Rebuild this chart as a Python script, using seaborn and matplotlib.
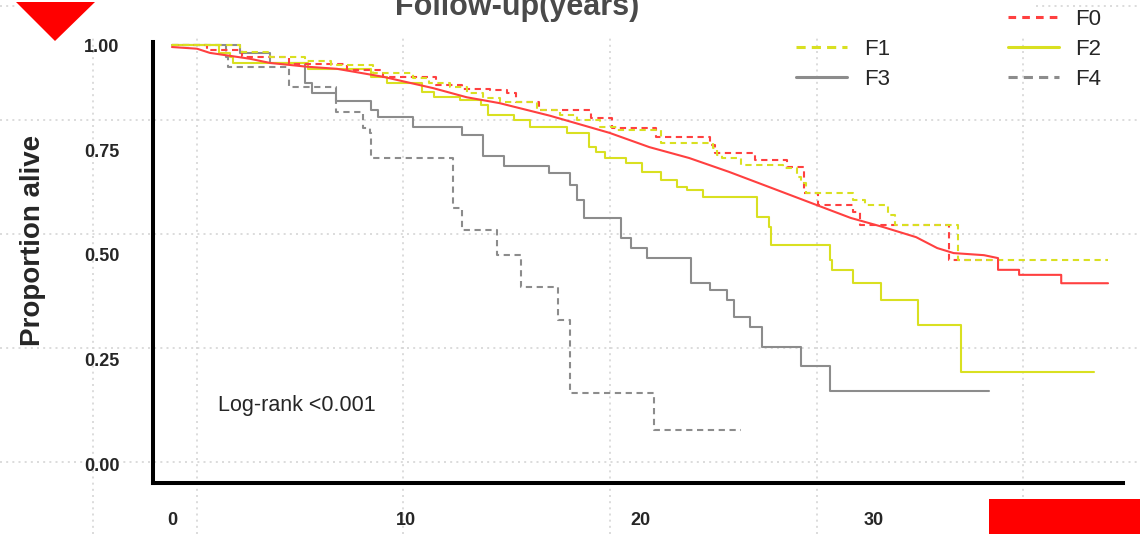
import numpy as np
import pandas as pd
import matplotlib
matplotlib.use("Agg")
import matplotlib.pyplot as plt
import seaborn as sns
from matplotlib.lines import Line2D
from matplotlib.patches import Polygon, Rectangle

# Kaplan-Meier step corners (time in years, survival)
f0_time = [0, 1.5, 3.0, 5.0, 7.5, 9.0, 11.3, 12.4, 13.6, 14.3, 14.7, 15.7, 17.9,
           18.8, 20.7, 23.0, 23.2, 24.9, 26.3, 27.0, 27.6, 29.1, 29.4, 33.2, 35.2]
f0_surv = [1.0, 0.99, 0.972, 0.955, 0.94, 0.925, 0.906, 0.896, 0.894, 0.887, 0.865,
           0.846, 0.827, 0.803, 0.781, 0.762, 0.743, 0.726, 0.710, 0.648, 0.619,
           0.602, 0.571, 0.487, 0.487]

f1_time = [0, 2.9, 4.2, 5.7, 6.8, 8.6, 10.3, 11.0, 11.9, 12.6, 13.3, 14.0, 15.6,
           16.6, 17.3, 18.3, 19.0, 20.9, 23.1, 23.3, 23.5, 24.3, 26.1, 26.7, 26.9,
           27.1, 29.1, 29.6, 30.6, 30.9, 33.6, 40.0]
f1_surv = [1.0, 0.984, 0.973, 0.963, 0.953, 0.934, 0.922, 0.910, 0.901, 0.887,
           0.875, 0.865, 0.846, 0.834, 0.822, 0.805, 0.798, 0.767, 0.755, 0.739,
           0.731, 0.714, 0.707, 0.686, 0.672, 0.648, 0.631, 0.619, 0.595, 0.571,
           0.487, 0.487]

f2_time = [0, 2.0, 2.5, 2.6, 5.8, 8.5, 9.2, 10.7, 11.2, 12.3, 13.2, 13.5, 14.6,
           15.3, 16.9, 17.8, 18.1, 18.5, 19.4, 20.1, 20.9, 21.6, 22.0, 22.7, 25.0,
           25.5, 25.6, 28.1, 28.2, 29.1, 30.3, 31.9, 33.7, 39.4]
f2_surv = [1.0, 0.981, 0.971, 0.959, 0.944, 0.925, 0.911, 0.889, 0.877, 0.870,
           0.858, 0.834, 0.822, 0.805, 0.791, 0.757, 0.746, 0.731, 0.719, 0.698,
           0.679, 0.662, 0.655, 0.638, 0.590, 0.566, 0.523, 0.487, 0.463, 0.432,
           0.392, 0.332, 0.220, 0.220]

f3_time = [0, 2.9, 4.2, 5.7, 6.0, 7.0, 8.5, 8.8, 10.3, 12.4, 13.3, 14.2, 16.1,
           17.0, 17.3, 17.6, 19.2, 19.6, 20.3, 22.2, 23.0, 23.7, 24.0, 24.7, 25.2,
           26.9, 28.1, 34.9]
f3_surv = [1.0, 0.982, 0.958, 0.910, 0.886, 0.867, 0.846, 0.829, 0.805, 0.786,
           0.736, 0.712, 0.695, 0.667, 0.631, 0.588, 0.540, 0.516, 0.492, 0.432,
           0.416, 0.392, 0.351, 0.327, 0.280, 0.234, 0.174, 0.174]

f4_time = [0, 2.3, 2.4, 5.0, 7.0, 8.15, 8.45, 8.5, 12.0, 12.4, 13.9, 14.9, 16.5,
           17.0, 20.6, 24.3]
f4_surv = [1.0, 0.973, 0.949, 0.901, 0.841, 0.803, 0.791, 0.731, 0.612, 0.559,
           0.499, 0.423, 0.344, 0.170, 0.081, 0.081]

# overall cohort (dense small steps, traced as a polyline)
all_time = [0, 1.07, 1.62, 3.33, 4.19, 5.77, 7.05, 9.02, 11.15, 12.6, 14.0, 16.15,
            18.7, 20.4, 22.1, 23.8, 25.6, 27.3, 29.0, 30.4, 31.8, 32.7, 33.4, 34.7,
            35.3, 35.3, 36.2, 36.2, 38.0, 38.0, 40.0]
all_surv = [0.996, 0.992, 0.982, 0.968, 0.958, 0.949, 0.944, 0.925, 0.898, 0.876,
            0.862, 0.832, 0.791, 0.757, 0.731, 0.698, 0.660, 0.624, 0.588, 0.566,
            0.542, 0.516, 0.504, 0.499, 0.492, 0.464, 0.464, 0.452, 0.452, 0.432,
            0.432]

x_ticks = [0, 10, 20, 30, 40]
y_ticks = [0.0, 0.25, 0.5, 0.75, 1.0]
y_tick_labels = ["0.00", "0.25", "0.50", "0.75", "1.00"]

RED = "#FF4040"
YEL = "#D9E021"
GRY = "#8C8C8C"

sns.set_style("white")
plt.rcParams["font.family"] = ["Liberation Sans", "DejaVu Sans"]

W, H = 1140, 534
fig = plt.figure(figsize=(W / 100, H / 100), dpi=100)

# dotted background grid spanning the whole canvas
bg = fig.add_axes([0, 0, 1, 1], zorder=0)
bg.set_xlim(0, W)
bg.set_ylim(H, 0)
bg.axis("off")
for gx in [93, 197, 403, 610, 817, 1023]:
    bg.axvline(gx, color="#D6D6D6", lw=1.2, ls=(0, (1.2, 2.5)))
for gy in [6, 120, 234, 348, 462]:
    bg.axhline(gy, color="#D6D6D6", lw=1.2, ls=(0, (1.2, 2.5)))

ax = fig.add_axes([153 / W, 51 / H, 970 / W, 441 / H], zorder=1)
ax.set_facecolor("none")

curves = [
    (f4_time, f4_surv, GRY, (0, (3, 2.2))),
    (f3_time, f3_surv, GRY, "-"),
    (f2_time, f2_surv, YEL, "-"),
    (f0_time, f0_surv, RED, (0, (3, 2.2))),
    (f1_time, f1_surv, YEL, (0, (3, 2.2))),
]
for t, s, c, ls in curves:
    df = pd.DataFrame({"time": t, "surv": s})
    sns.lineplot(data=df, x="time", y="surv", ax=ax, color=c, linestyle=ls,
                 lw=1.5, drawstyle="steps-post", estimator=None, sort=False)

df_all = pd.DataFrame({"time": all_time, "surv": all_surv})
sns.lineplot(data=df_all, x="time", y="surv", ax=ax, color=RED, lw=1.5,
             estimator=None, sort=False)

ax.set_xlim(-0.81, 40.64)
ax.set_ylim(-0.045, 1.008)
ax.set_xticks(x_ticks)
ax.set_xticklabels([str(v) for v in x_ticks])
ax.set_yticks(y_ticks)
ax.set_yticklabels(y_tick_labels)
for lab in ax.get_xticklabels() + ax.get_yticklabels():
    lab.set_fontweight("bold")
ax.tick_params(axis="both", direction="out", length=11, width=2.9,
               labelsize=13, color="black")
ax.tick_params(axis="y", pad=13)
ax.tick_params(axis="x", pad=10)
ax.grid(False)
sns.despine(ax=ax)
for side in ["left", "bottom"]:
    ax.spines[side].set_linewidth(2.9)
    ax.spines[side].set_color("black")
ax.set_xlabel("")
ax.set_ylabel("Proportion alive", fontsize=20, fontweight="bold")
ax.yaxis.set_label_coords(-0.110, 0.549)

ax.text(1.97, 0.139, "Log-rank <0.001", fontsize=15.5, va="center", ha="left")

handles = [
    Line2D([], [], color="none"),
    Line2D([], [], color=YEL, lw=2.2, ls=(0, (3, 2))),
    Line2D([], [], color=GRY, lw=2.2, ls="-"),
    Line2D([], [], color=RED, lw=2.2, ls=(0, (2.5, 2))),
    Line2D([], [], color=YEL, lw=2.2, ls="-"),
    Line2D([], [], color=GRY, lw=2.2, ls=(0, (3, 2))),
]
labels = [" ", "F1", "F3", "F0", "F2", "F4"]
fig.legend(handles, labels, ncol=2, loc="upper left",
           bbox_to_anchor=(796 / W, 1 - 9 / H), frameon=False, fontsize=16,
           handlelength=2.3, handletextpad=0.75, columnspacing=5.3,
           labelspacing=0.4, borderpad=0, borderaxespad=0)

# overlays: white title strip, cut-off title, red markers
ov = fig.add_axes([0, 0, 1, 1], zorder=5)
ov.set_facecolor("none")
ov.set_xlim(0, W)
ov.set_ylim(H, 0)
ov.axis("off")
ov.add_patch(Rectangle((18, 0), 1015, 38, color="white", lw=0))
ov.text(517, 15, "Follow-up(years)", fontsize=22, fontweight="bold",
        color="#4A4A4A", ha="center", va="baseline")
ov.add_patch(Polygon([(16, 2), (95, 2), (55, 41)], closed=True, color="#FF0000", lw=0))
ov.add_patch(Rectangle((989, 499), 151, 35, color="#FF0000", lw=0))

fig.savefig("out.png", dpi=100)
